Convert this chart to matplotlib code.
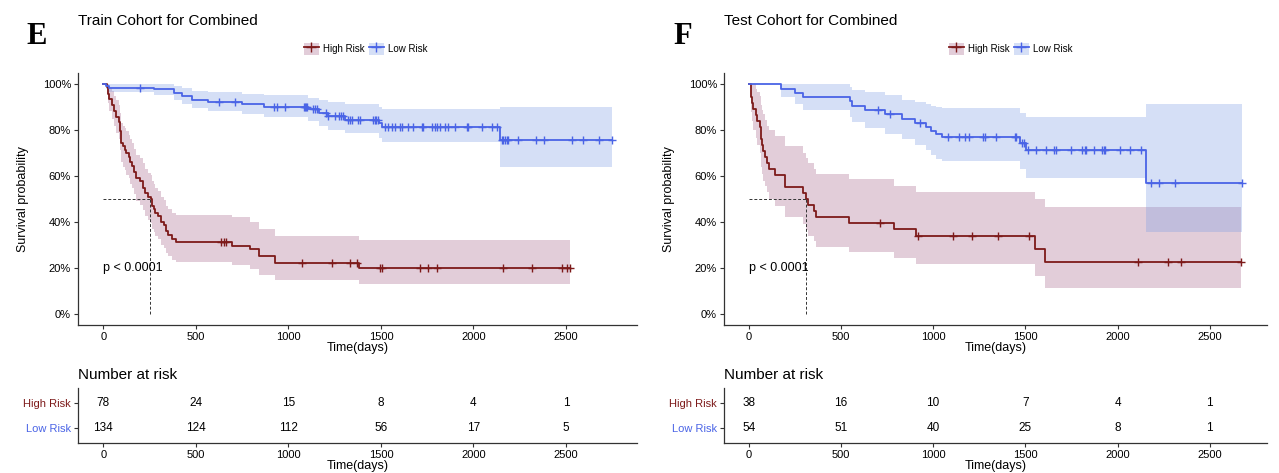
import numpy as np
import matplotlib
matplotlib.use("Agg")
import matplotlib.pyplot as plt
from matplotlib.patches import Patch
from matplotlib.lines import Line2D
from matplotlib.legend_handler import HandlerTuple

plt.rcParams['font.family'] = ['Liberation Sans', 'DejaVu Sans']

# ---------------- data ----------------
# each step value holds from t[i] until t[i+1]; last one holds until *_end
train_high_t = [0, 20, 26, 33, 45, 56, 68, 83, 92, 97, 105, 115, 125, 137, 146, 155, 165, 176,
                200, 212, 223, 240, 255, 263, 272, 281, 298, 314, 326, 336, 350, 371, 395,
                695, 794, 839, 929, 1381]
train_high_s = [1.0, 0.987, 0.96, 0.935, 0.91, 0.885, 0.86, 0.835, 0.795, 0.745, 0.73, 0.715, 0.70,
                0.685, 0.66, 0.645, 0.62, 0.59, 0.578, 0.55, 0.525, 0.51, 0.498, 0.47, 0.455, 0.44,
                0.425, 0.40, 0.385, 0.36, 0.345, 0.325, 0.311, 0.295, 0.28, 0.25, 0.222, 0.20]
train_high_lo = [1.0, 0.96, 0.92, 0.885, 0.85, 0.82, 0.79, 0.76, 0.715, 0.66, 0.64, 0.625, 0.605,
                 0.59, 0.565, 0.55, 0.52, 0.49, 0.475, 0.45, 0.425, 0.41, 0.395, 0.37, 0.355, 0.34,
                 0.325, 0.30, 0.285, 0.265, 0.25, 0.235, 0.225, 0.21, 0.195, 0.17, 0.146, 0.127]
train_high_hi = [1.0, 1.0, 1.0, 0.985, 0.97, 0.95, 0.93, 0.91, 0.875, 0.83, 0.82, 0.81, 0.795,
                 0.78, 0.76, 0.745, 0.72, 0.69, 0.68, 0.655, 0.63, 0.615, 0.605, 0.58, 0.565, 0.55,
                 0.535, 0.51, 0.495, 0.47, 0.455, 0.44, 0.432, 0.42, 0.40, 0.37, 0.34, 0.32]
train_high_end = 2522
train_high_cens = [635, 650, 665, 1073, 1235, 1334, 1370, 1496, 1505, 1712, 1753, 1802,
                   2162, 2315, 2477, 2504, 2522]

train_low_t = [0, 15, 30, 272, 380, 425, 479, 565, 749, 866, 1105, 1165, 1215, 1305, 1490, 1505, 2144]
train_low_s = [1.0, 0.993, 0.986, 0.978, 0.964, 0.949, 0.934, 0.922, 0.913, 0.903, 0.891, 0.875,
               0.862, 0.847, 0.83, 0.815, 0.757]
train_low_lo = [1.0, 0.978, 0.966, 0.952, 0.934, 0.915, 0.897, 0.885, 0.87, 0.858, 0.84, 0.82,
                0.80, 0.786, 0.765, 0.75, 0.64]
train_low_hi = [1.0, 1.0, 1.0, 1.0, 0.993, 0.983, 0.972, 0.966, 0.957, 0.952, 0.943, 0.932,
                0.925, 0.913, 0.90, 0.894, 0.90]
train_low_end = 2747
train_low_cens = [200, 626, 713, 920, 938, 983, 1082, 1090, 1097, 1103, 1132, 1145, 1157, 1205,
                  1215, 1253, 1275, 1285, 1296, 1323, 1334, 1345, 1377, 1388, 1458, 1467, 1476,
                  1485, 1523, 1541, 1559, 1577, 1604, 1613, 1649, 1676, 1721, 1730, 1775, 1793,
                  1802, 1820, 1847, 1865, 1901, 1964, 1973, 2045, 2099, 2126, 2153, 2162, 2171,
                  2180, 2189, 2239, 2336, 2383, 2531, 2590, 2680, 2747]

test_high_t = [0, 10, 15, 20, 25, 40, 45, 60, 65, 68, 72, 80, 88, 99, 110, 141, 195, 295, 308,
               319, 352, 365, 543, 790, 905, 1551, 1606]
test_high_s = [1.0, 0.974, 0.947, 0.921, 0.895, 0.868, 0.842, 0.816, 0.789, 0.763, 0.737, 0.711,
               0.684, 0.658, 0.632, 0.605, 0.553, 0.526, 0.50, 0.474, 0.447, 0.421, 0.395, 0.367,
               0.338, 0.28, 0.225]
test_high_lo = [1.0, 0.925, 0.88, 0.84, 0.80, 0.765, 0.735, 0.70, 0.67, 0.64, 0.61, 0.58, 0.555,
                0.53, 0.50, 0.47, 0.42, 0.39, 0.365, 0.34, 0.315, 0.29, 0.268, 0.243, 0.218,
                0.163, 0.112]
test_high_hi = [1.0, 1.0, 1.0, 1.0, 1.0, 0.98, 0.965, 0.95, 0.93, 0.91, 0.89, 0.87, 0.845, 0.82,
                0.80, 0.775, 0.73, 0.70, 0.68, 0.655, 0.63, 0.607, 0.588, 0.555, 0.531, 0.502,
                0.466]
test_high_end = 2667
test_high_cens = [712, 918, 1106, 1213, 1351, 1518, 2108, 2272, 2344, 2667]

test_low_t = [0, 173, 249, 294, 547, 560, 629, 737, 831, 903, 963, 990, 1017, 1049, 1469, 1505, 2155]
test_low_s = [1.0, 0.981, 0.963, 0.944, 0.926, 0.907, 0.889, 0.87, 0.851, 0.832, 0.813, 0.797,
              0.782, 0.772, 0.745, 0.712, 0.571]
test_low_lo = [1.0, 0.946, 0.915, 0.89, 0.86, 0.835, 0.81, 0.785, 0.76, 0.735, 0.715, 0.69,
               0.675, 0.668, 0.632, 0.593, 0.357]
test_low_hi = [1.0, 1.0, 1.0, 1.0, 0.99, 0.975, 0.965, 0.955, 0.934, 0.925, 0.913, 0.905, 0.90,
               0.898, 0.876, 0.857, 0.916]
test_low_end = 2676
test_low_cens = [701, 764, 927, 1080, 1140, 1171, 1194, 1270, 1279, 1342, 1442, 1451, 1480, 1490,
                 1514, 1559, 1614, 1655, 1664, 1749, 1809, 1821, 1830, 1870, 1915, 1924, 1933,
                 2015, 2065, 2128, 2183, 2224, 2309, 2676]

train_median = 254
test_median = 309

risk_times = [0, 500, 1000, 1500, 2000, 2500]
train_risk_high = [78, 24, 15, 8, 4, 1]
train_risk_low = [134, 124, 112, 56, 17, 5]
test_risk_high = [38, 16, 10, 7, 4, 1]
test_risk_low = [54, 51, 40, 25, 8, 1]

groups = ['High Risk', 'Low Risk']
y_ticks = [0, 0.2, 0.4, 0.6, 0.8, 1.0]
y_ticklabels = ['0%', '20%', '40%', '60%', '80%', '100%']

# ---------------- styling ----------------
RED_LINE = '#7D1A1A'
BLUE_LINE = '#4A64E6'
RED_FILL = '#A25C84'
BLUE_FILL = '#7698E4'
FILL_ALPHA = 0.3
AX_COL = '#333333'

W, H = 1279, 473
fig = plt.figure(figsize=(W / 100, H / 100), dpi=100)


def fx(px):
    return px / W


def fy(py):
    return 1 - py / H


def draw_curve(ax, t, s, lo, hi, end, cens, line_col, fill_col):
    t_ext = np.append(t, end)
    s_ext = np.append(s, s[-1])
    lo_ext = np.append(lo, lo[-1])
    hi_ext = np.append(hi, hi[-1])
    ax.fill_between(t_ext, lo_ext, hi_ext, step='post', color=fill_col,
                    alpha=FILL_ALPHA, linewidth=0)
    ax.step(t_ext, s_ext, where='post', color=line_col, lw=1.3)
    idx = np.searchsorted(t, cens, side='right') - 1
    ax.plot(cens, np.array(s)[idx], ls='none', marker='+', ms=6, mew=1.0, color=line_col)


def style_axis(ax):
    for side in ['top', 'right']:
        ax.spines[side].set_visible(False)
    for side in ['left', 'bottom']:
        ax.spines[side].set_color(AX_COL)
        ax.spines[side].set_linewidth(0.9)
    ax.tick_params(direction='out', length=3, width=0.8, color=AX_COL,
                   labelsize=8, pad=2)


def draw_panel(x_left, x_right, xlim, letter, title, high, low, median,
               risk_high, risk_low, legend_cx):
    width = x_right - x_left
    ax = fig.add_axes([fx(x_left), fy(325), fx(width), (325 - 73) / H])
    # high first so that the low-risk band is drawn over it
    draw_curve(ax, *high, RED_LINE, RED_FILL)
    draw_curve(ax, *low, BLUE_LINE, BLUE_FILL)
    ax.plot([0, median], [0.5, 0.5], ls=(0, (3, 2)), color='#333333', lw=0.7)
    ax.plot([median, median], [0, 0.5], ls=(0, (3, 2)), color='#333333', lw=0.7)
    ax.text(0, 0.2, 'p < 0.0001', fontsize=9, ha='left', va='center')
    ax.set_xlim(xlim)
    ax.set_ylim(-0.05, 1.05)
    ax.set_xticks(risk_times)
    ax.set_yticks(y_ticks)
    ax.set_yticklabels(y_ticklabels)
    style_axis(ax)
    ax.set_xlabel('Time(days)', fontsize=9, labelpad=0)
    ax.set_ylabel('Survival probability', fontsize=9, labelpad=10)

    # legend
    hdl = []
    for lc, fc in [(RED_LINE, RED_FILL), (BLUE_LINE, BLUE_FILL)]:
        hdl.append((Patch(facecolor=fc, alpha=FILL_ALPHA, edgecolor='none'),
                    Line2D([], [], color=lc, lw=1.3, marker='+', ms=7, mew=1.0)))
    fig.legend(hdl, groups, handler_map={tuple: HandlerTuple(ndivide=1, pad=0)},
               loc='center', bbox_to_anchor=(fx(legend_cx), fy(49)), ncol=2,
               frameon=False, fontsize=7, handlelength=1.5, handleheight=1.6,
               handletextpad=0.5, columnspacing=0.4)

    fig.text(fx(x_left - 41), fy(37), letter, fontsize=22, fontweight='bold',
             family='Liberation Serif', ha='center', va='center')
    fig.text(fx(x_left), fy(21), title, fontsize=11, ha='left', va='center')
    fig.text(fx(x_left), fy(375), 'Number at risk', fontsize=11, ha='left', va='center')

    # risk table
    tab = fig.add_axes([fx(x_left), fy(443), fx(width), 55 / H])
    for x, n in zip(risk_times, risk_high):
        tab.text(x, 2, str(n), fontsize=8.5, ha='center', va='center')
    for x, n in zip(risk_times, risk_low):
        tab.text(x, 1, str(n), fontsize=8.5, ha='center', va='center')
    tab.set_xlim(xlim)
    tab.set_ylim(0.4, 2.6)
    tab.set_xticks(risk_times)
    tab.set_yticks([2, 1])
    tab.set_yticklabels(groups)
    style_axis(tab)
    tab.get_yticklabels()[0].set_color(RED_LINE)
    tab.get_yticklabels()[1].set_color(BLUE_LINE)
    tab.set_xlabel('Time(days)', fontsize=9, labelpad=0)


draw_panel(78, 637, (-137, 2884), 'E', 'Train Cohort for Combined',
           (train_high_t, train_high_s, train_high_lo, train_high_hi, train_high_end, train_high_cens),
           (train_low_t, train_low_s, train_low_lo, train_low_hi, train_low_end, train_low_cens),
           train_median, train_risk_high, train_risk_low, 366)

draw_panel(724, 1267, (-134, 2810), 'F', 'Test Cohort for Combined',
           (test_high_t, test_high_s, test_high_lo, test_high_hi, test_high_end, test_high_cens),
           (test_low_t, test_low_s, test_low_lo, test_low_hi, test_low_end, test_low_cens),
           test_median, test_risk_high, test_risk_low, 1011)

fig.savefig('out.png', dpi=100)
